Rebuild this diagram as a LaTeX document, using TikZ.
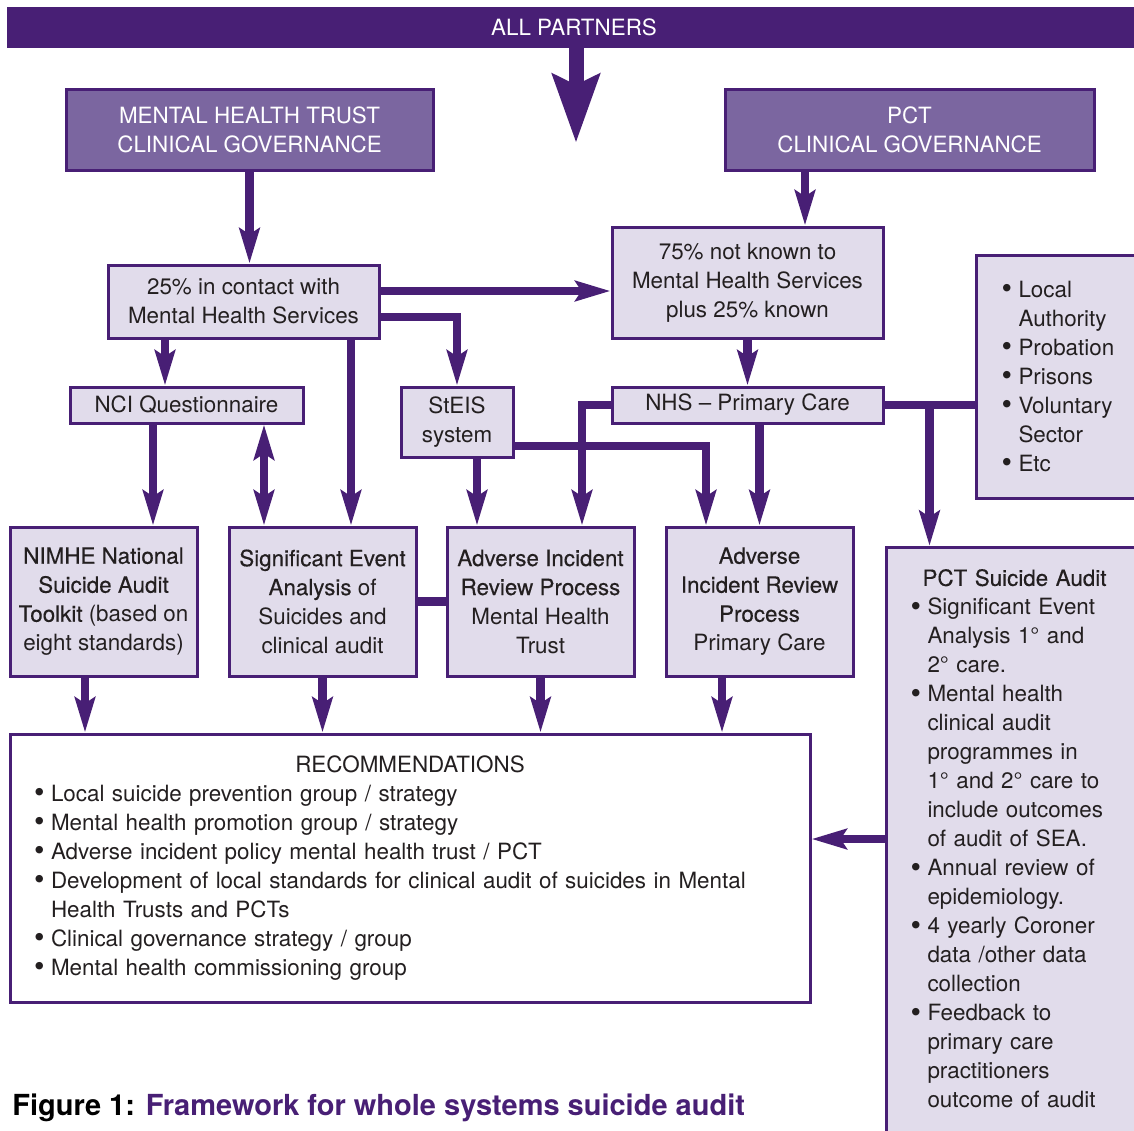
\documentclass[tikz,border=0pt]{standalone}
\usepackage{fontspec}
\setmainfont{TeX Gyre Heros}
\newfontfamily\medfont{TeX Gyre Heros}[FakeBold=0.3]
\usetikzlibrary{arrows.meta,calc}
\definecolor{dpurple}{HTML}{481F75}
\definecolor{mpurple}{HTML}{7B66A0}
\definecolor{lpurple}{HTML}{E1DCEB}
\definecolor{txt}{HTML}{231F20}
\newcommand{\itm}{\makebox[8.5pt][l]{\raisebox{-0.6pt}{\fontsize{15}{14.5}\selectfont\textbullet}}}
\newcommand{\ind}{\hspace*{8.5pt}}

\begin{document}
\begin{tikzpicture}[x=0.5pt,y=-0.5pt,
  every node/.style={font=\fontsize{11.2}{14.5}\selectfont,text=txt,align=center,inner sep=0pt},
  govbox/.style={draw=dpurple,line width=1.5pt,fill=mpurple,text=white},
  infobox/.style={draw=dpurple,line width=1.5pt,fill=lpurple},
  conn/.style={draw=dpurple,line width=4.25pt},
  >={Stealth[length=17.5pt,width=10pt,inset=3pt]}]
\useasboundingbox (0,0) rectangle (1134,1130);
\clip (0,0) rectangle (1134,1130);
% top row
\node[govbox,fill=dpurple,minimum width=566pt,minimum height=19pt] (all) at (574,27) {ALL PARTNERS};
\node[govbox,minimum width=183.5pt,minimum height=40.5pt] (mhtcg) at (249.5,129.5) {MENTAL HEALTH TRUST\\CLINICAL GOVERNANCE};
\node[govbox,minimum width=184.5pt,minimum height=40.5pt] (pctcg) at (909.5,129.5) {PCT\\CLINICAL GOVERNANCE};
% second row
\node[infobox,minimum width=135.5pt,minimum height=36.5pt] (known) at (243.5,301.5) {25\% in contact with\\Mental Health Services};
\node[infobox,minimum width=135.5pt,minimum height=55.5pt] (unknown) at (747.5,282.5) {75\% not known to\\Mental Health Services\\plus 25\% known};
\node[infobox,anchor=west,text width=83pt,align=left,inner xsep=12.5pt,minimum height=121.5pt] (agencies) at (975,376.5)
  {\itm Local\\\ind Authority\\\itm Probation\\\itm Prisons\\\itm Voluntary\\\ind Sector\\\itm Etc};
\node[infobox,minimum width=116.5pt,minimum height=18pt] (nci) at (186.5,405) {NCI Questionnaire};
\node[infobox,minimum width=56pt,minimum height=35pt] (steis) at (457,422) {StEIS\\system};
\node[infobox,minimum width=135.5pt,minimum height=18pt] (nhs) at (747.5,405) {NHS – Primary Care};
% review boxes
\node[infobox,minimum width=93.5pt,minimum height=74.5pt] (nimhe) at (103.5,601.5)
  {{\medfont NIMHE National}\\{\medfont Suicide Audit}\\{\medfont Toolkit} (based on\\eight standards)};
\node[infobox,minimum width=93.5pt,minimum height=74.5pt] (sea) at (322.5,601.5)
  {{\medfont Significant Event}\\{\medfont Analysis} of\\Suicides and\\clinical audit};
\node[infobox,minimum width=93.5pt,minimum height=74.5pt] (airpm) at (540.5,601.5)
  {{\medfont Adverse Incident}\\{\medfont Review Process}\\Mental Health\\Trust};
\node[infobox,minimum width=93.5pt,minimum height=74.5pt] (airpp) at (759.5,601.5)
  {{\medfont Adverse}\\{\medfont Incident Review}\\{\medfont Process}\\Primary Care};
\node[infobox,anchor=north west,text width=104pt,align=left,inner xsep=12pt,minimum height=305.5pt] (pctaudit) at (885,546)
  {\makebox[104pt]{\medfont PCT Suicide Audit}\\
   \itm Significant Event\\\ind Analysis 1° and\\\ind 2° care.\\
   \itm Mental health\\\ind clinical audit\\\ind programmes in\\\ind 1° and 2° care to\\\ind include outcomes\\\ind of audit of SEA.\\
   \itm Annual review of\\\ind epidemiology.\\
   \itm 4 yearly Coroner\\\ind data /other data\\\ind collection\\
   \itm Feedback to\\\ind primary care\\\ind practitioners\\\ind outcome of audit\\\mbox{}};
\node[draw=dpurple,line width=1.5pt,fill=white,minimum width=400pt,minimum height=134pt,text width=376pt,inner xsep=12pt,align=left] (recs) at (410,868)
  {\makebox[376pt]{RECOMMENDATIONS}\\
   \itm Local suicide prevention group / strategy\\
   \itm Mental health promotion group / strategy\\
   \itm Adverse incident policy mental health trust / PCT\\
   \itm Development of local standards for clinical audit of suicides in Mental\\
   \ind Health Trusts and PCTs\\
   \itm Clinical governance strategy / group\\
   \itm Mental health commissioning group};
\node[anchor=base west,font=\fontsize{14.5}{17}\selectfont\bfseries,text=black] (caption) at (12,1115)
  {Figure 1: \textcolor{dpurple}{Framework for whole systems suicide audit}};
% connectors
\coordinate (alltip) at (576,143);
\draw[dpurple,line width=7.5pt,-{Stealth[length=34pt,width=23pt,inset=5pt]}] (all.south -| alltip) -- (alltip);
\draw[conn,->] (mhtcg.south) -- (mhtcg.south |- known.north);
\coordinate (pcin) at ([xshift=28.75pt]unknown.north);
\draw[conn,->] (pcin |- pctcg.south) -- (pcin);
\coordinate (kin) at ([yshift=-4.25pt]unknown.west);
\draw[conn,->] (kin -| known.east) -- (kin);
\draw[conn,->] ([yshift=-7.75pt]known.east) -| (steis.north);
\coordinate (kq) at ([xshift=-39.25pt]known.south);
\draw[conn,->] (kq) -- (kq |- nci.north);
\coordinate (ks) at ([xshift=53.75pt]known.south);
\draw[conn,->] (ks) -- (ks |- sea.north);
\coordinate (qn) at ([xshift=-16.75pt]nci.south);
\draw[conn,->] (qn) -- (qn |- nimhe.north);
\coordinate (qs) at ([xshift=38.75pt]nci.south);
\draw[conn,<->] (qs) -- (qs |- sea.north);
\draw[conn,->] (unknown.south) -- (unknown.south |- nhs.north);
\coordinate (sm) at ([xshift=10pt]steis.south);
\draw[conn,->] (sm) -- (sm |- airpm.north);
\coordinate (sp) at ([xshift=-26.75pt]airpp.north);
\draw[conn,->] ([yshift=-12pt]steis.east) -| (sp);
\coordinate (nm) at ([xshift=20.75pt]airpm.north);
\draw[conn,->] (nhs.west) -| (nm);
\draw[conn,->] (airpp.north |- nhs.south) -- (airpp.north);
\draw[conn] (nhs.east) -- (nhs.east -| agencies.west);
\coordinate (na) at ([xshift=-42.5pt]pctaudit.north);
\draw[conn,->] (na |- nhs.east) -- (na);
\draw[conn] (sea.east) -- (airpm.west);
\coordinate (r1) at ([xshift=-9.25pt]nimhe.south);
\draw[conn,->] (r1) -- (r1 |- recs.north);
\draw[conn,->] (sea.south) -- (sea.south |- recs.north);
\draw[conn,->] (airpm.south) -- (airpm.south |- recs.north);
\coordinate (r4) at ([xshift=-18.75pt]airpp.south);
\draw[conn,->] (r4) -- (r4 |- recs.north);
\coordinate (ra) at ([yshift=14.5pt]recs.east);
\draw[conn,->] (ra -| pctaudit.west) -- (ra);
\end{tikzpicture}
\end{document}
